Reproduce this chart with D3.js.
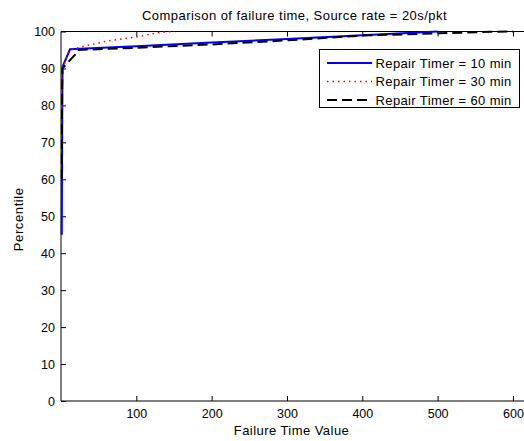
<!DOCTYPE html>
<html><head><meta charset="utf-8">
<script src="https://cdn.jsdelivr.net/npm/d3@7"></script>
<style>
html,body{margin:0;padding:0;background:#fff;}
svg{display:block;font-family:"Liberation Sans",Arial,sans-serif;}
</style></head>
<body><svg id="c" width="524" height="441"></svg>
<script>
// Data (x = failure time, y = percentile)
const seriesNames = ["Repair Timer = 10 min", "Repair Timer = 30 min", "Repair Timer = 60 min"];
const blueX = [1, 1.5, 2, 12, 25, 100, 200, 300, 400, 500];
const blueY = [45, 70, 90.5, 95.2, 95.3, 96.0, 97.0, 98.0, 99.0, 100];
const redX = [1, 1.5, 2, 12, 30, 61, 100, 126, 145];
const redY = [78, 88, 90, 95.0, 96.0, 97.4, 98.5, 99.6, 100];
const blackX = [1, 1.5, 2, 19, 22, 100, 200, 300, 400, 500, 570, 600];
const blackY = [60, 85, 90, 93.8, 95.0, 95.6, 96.5, 97.6, 98.9, 99.5, 99.9, 100];
const xTicks = [100, 200, 300, 400, 500, 600];
const yTicks = [0, 10, 20, 30, 40, 50, 60, 70, 80, 90, 100];
const titleText = "Comparison of failure time, Source rate = 20s/pkt";
const xLabel = "Failure Time Value";
const yLabel = "Percentile";

const L = 61, R = 525, T = 31.5, B = 401;
const svg = d3.select("#c");
const x = d3.scaleLinear().domain([0, 616]).range([L, R]);
const y = d3.scaleLinear().domain([0, 100]).range([B, T]);

const series = [
  {name: seriesNames[0], xs: blueX, ys: blueY, color: "#0000ff", width: 2, dash: null},
  {name: seriesNames[1], xs: redX, ys: redY, color: "#ff0000", width: 1.5, dash: "1.5,4"},
  {name: seriesNames[2], xs: blackX, ys: blackY, color: "#000000", width: 2, dash: "10,5"}
];

const fs = "13px";
const gx = svg.append("g").attr("transform", `translate(0,${B})`)
  .call(d3.axisBottom(x).tickValues(xTicks).tickSize(-5).tickPadding(8).tickFormat(d3.format("d")));
const gy = svg.append("g").attr("transform", `translate(${L},0)`)
  .call(d3.axisLeft(y).tickValues(yTicks).tickSize(-5).tickPadding(6).tickFormat(d3.format("d")));
const gxt = svg.append("g").attr("transform", `translate(0,${T})`)
  .call(d3.axisTop(x).tickValues(xTicks).tickSize(-5).tickFormat(""));
[gx, gy, gxt].forEach(g => {
  g.selectAll("path.domain").attr("stroke", "#000").attr("stroke-width", 1);
  g.selectAll(".tick line").attr("stroke", "#000");
  g.selectAll("text").attr("font-size", "12.5px").attr("fill", "#000")
    .attr("font-family", "Liberation Sans, Arial, sans-serif");
});
gy.selectAll("path.domain").attr("d", `M0,${B}V${T}`);
gx.selectAll("path.domain").attr("d", `M${L},0H${R}`);
gxt.selectAll("path.domain").attr("d", `M${L},0H${R}`);

// lines
const line = d3.line().x(d => x(d[0])).y(d => y(d[1]));
series.forEach(s => {
  const pts = s.xs.map((v, i) => [v, s.ys[i]]);
  svg.append("path").datum(pts).attr("d", line)
    .attr("fill", "none").attr("stroke", s.color).attr("stroke-width", s.width)
    .attr("stroke-dasharray", s.dash);
});

// title & labels
svg.append("text").attr("x", 294.5).attr("y", 19.5).attr("text-anchor", "middle")
  .attr("font-size", fs).attr("letter-spacing", "0.45px").text(titleText);
svg.append("text").attr("x", 291.5).attr("y", 434.5).attr("text-anchor", "middle")
  .attr("font-size", fs).attr("letter-spacing", "0.45px").text(xLabel);
svg.append("text").attr("transform", `translate(23,${(T + B) / 2 + 3}) rotate(-90)`)
  .attr("text-anchor", "middle").attr("font-size", fs).attr("letter-spacing", "0.6px").text(yLabel);

// legend
const lg = svg.append("g");
lg.append("rect").attr("x", 319.5).attr("y", 49.5).attr("width", 200).attr("height", 58)
  .attr("fill", "#fff").attr("stroke", "#000").attr("stroke-width", 1);
series.forEach((s, i) => {
  const cy = 63 + i * 18.5;
  lg.append("line").attr("x1", 327).attr("x2", 372).attr("y1", cy).attr("y2", cy)
    .attr("stroke", s.color).attr("stroke-width", s.width).attr("stroke-dasharray", s.dash);
  lg.append("text").attr("x", 375.5).attr("y", cy + 4.5).attr("font-size", fs)
    .attr("letter-spacing", "0.38px").text(s.name);
});
</script></body></html>
